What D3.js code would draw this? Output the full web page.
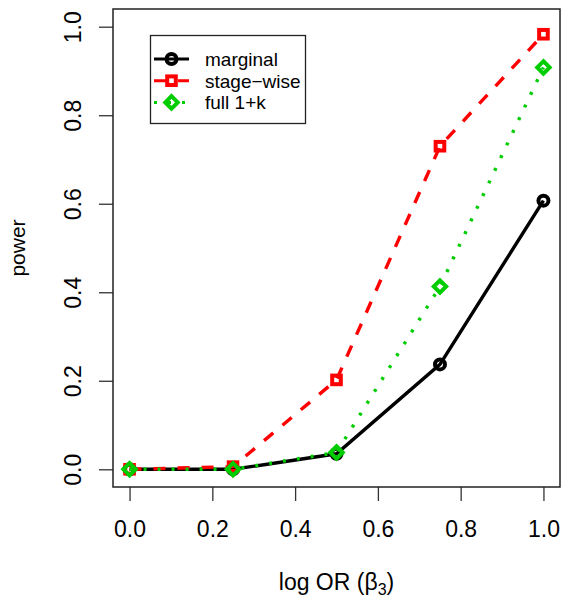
<!DOCTYPE html>
<html>
<head>
<meta charset="utf-8">
<script src="https://cdn.jsdelivr.net/npm/d3@7"></script>
<style>
  body { margin: 0; background: white; }
  text { font-family: "Liberation Sans", Arial, sans-serif; }
</style>
</head>
<body>
<div id="chart"></div>
<script>
const width = 562;
const height = 597;

// data
const logOR = [0, 0.25, 0.5, 0.75, 1.0];
const marginal = [0.000, 0.000, 0.035, 0.237, 0.607];
const stageWise = [0.000, 0.006, 0.202, 0.730, 0.983];
const full1k = [0.000, 0.000, 0.038, 0.413, 0.908];
const xTicks = [0, 0.2, 0.4, 0.6, 0.8, 1.0];
const yTicks = [0, 0.2, 0.4, 0.6, 0.8, 1.0];

const series = [
  { name: "marginal", values: marginal, color: "black", dash: null, shape: "circle" },
  { name: "stage\u2212wise", values: stageWise, color: "#ff0000", dash: "12 12", shape: "square" },
  { name: "full 1+k", values: full1k, color: "#00cd00", dash: "3 11", shape: "diamond" }
];

const plot = { left: 113, right: 560, top: 9, bottom: 487 };

let xScale = d3.scaleLinear()
  .domain([-0.04, 1.04])
  .range([plot.left, plot.right]);
let yScale = d3.scaleLinear()
  .domain([-0.04, 1.04])
  .range([plot.bottom, plot.top]);

let svg = d3.select("#chart")
  .append("svg")
  .attr("width", width)
  .attr("height", height)
  .attr("viewBox", [0, 0, width, height]);

// axes
let xAxis = svg.append("g")
  .attr("transform", `translate(0,${plot.bottom})`)
  .call(d3.axisBottom(xScale).tickValues(xTicks).tickFormat(d3.format(".1f")).tickSize(14));
let yAxis = svg.append("g")
  .attr("transform", `translate(${plot.left},0)`)
  .call(d3.axisLeft(yScale).tickValues(yTicks).tickFormat(d3.format(".1f")).tickSize(14));

for (const ax of [xAxis, yAxis]) {
  ax.select(".domain").remove();
  ax.selectAll("line").attr("stroke", "#333").attr("stroke-width", 1.3);
  ax.selectAll("text").attr("font-size", 23).attr("fill", "black")
    .attr("font-family", "Liberation Sans, Arial, sans-serif");
}
xAxis.selectAll("text").attr("dy", null).attr("y", 50);
yAxis.selectAll("text")
  .attr("x", null).attr("dy", null).attr("y", null)
  .attr("text-anchor", "middle")
  .attr("transform", `translate(${81 - plot.left},0) rotate(-90)`);

// box
svg.append("rect")
  .attr("x", plot.left)
  .attr("y", plot.top)
  .attr("width", plot.right - plot.left)
  .attr("height", plot.bottom - plot.top)
  .attr("fill", "none")
  .attr("stroke", "#222")
  .attr("stroke-width", 1.5);

// axis titles
let xTitle = svg.append("text")
  .attr("x", (plot.left + plot.right) / 2)
  .attr("y", 590)
  .attr("text-anchor", "middle")
  .attr("font-size", 23);
xTitle.append("tspan").text("log OR (\u03b2");
xTitle.append("tspan").attr("font-size", 16).attr("dy", 5).text("3");
xTitle.append("tspan").attr("dy", -5).text(")");

svg.append("text")
  .attr("transform", `translate(25,${(plot.top + plot.bottom) / 2}) rotate(-90)`)
  .attr("text-anchor", "middle")
  .attr("font-size", 21)
  .text("power");

function marker(sel, shape, color) {
  if (shape === "circle") {
    sel.append("circle").attr("r", 5);
  } else if (shape === "square") {
    sel.append("rect").attr("x", -4.3).attr("y", -4.3).attr("width", 8.6).attr("height", 8.6);
  } else {
    sel.append("path").attr("d", "M0,-6.2L6.2,0L0,6.2L-6.2,0Z");
  }
  sel.selectAll("*").attr("fill", "none").attr("stroke", color).attr("stroke-width", 4);
}

let line = d3.line()
  .x((d, i) => xScale(logOR[i]))
  .y(d => yScale(d));

// series
for (const s of series) {
  svg.append("path")
    .attr("d", line(s.values))
    .attr("fill", "none")
    .attr("stroke", s.color)
    .attr("stroke-width", 3.4)
    .attr("stroke-dasharray", s.dash);
  svg.append("g")
    .selectAll("g")
    .data(s.values)
    .join("g")
      .attr("transform", (d, i) => `translate(${xScale(logOR[i])},${yScale(d)})`)
      .each(function() { marker(d3.select(this), s.shape, s.color); });
}

// legend
let legend = svg.append("g");
legend.append("rect")
  .attr("x", 150.5).attr("y", 35.5)
  .attr("width", 155).attr("height", 88)
  .attr("fill", "white")
  .attr("stroke", "#222")
  .attr("stroke-width", 1.3);
let rows = legend.selectAll("g.row")
  .data(series)
  .join("g")
    .attr("class", "row")
    .attr("transform", (d, i) => `translate(0,${59 + i * 21.7})`);
rows.append("line")
  .attr("x1", 154).attr("x2", 189)
  .attr("stroke", d => d.color)
  .attr("stroke-width", 3)
  .attr("stroke-dasharray", d => d.dash);
rows.append("g")
  .attr("transform", "translate(171.5,0)")
  .each(function(d) { marker(d3.select(this), d.shape, d.color); });
rows.append("text")
  .attr("x", 205)
  .attr("y", 7)
  .attr("font-size", 19)
  .text(d => d.name);
</script>
</body>
</html>
